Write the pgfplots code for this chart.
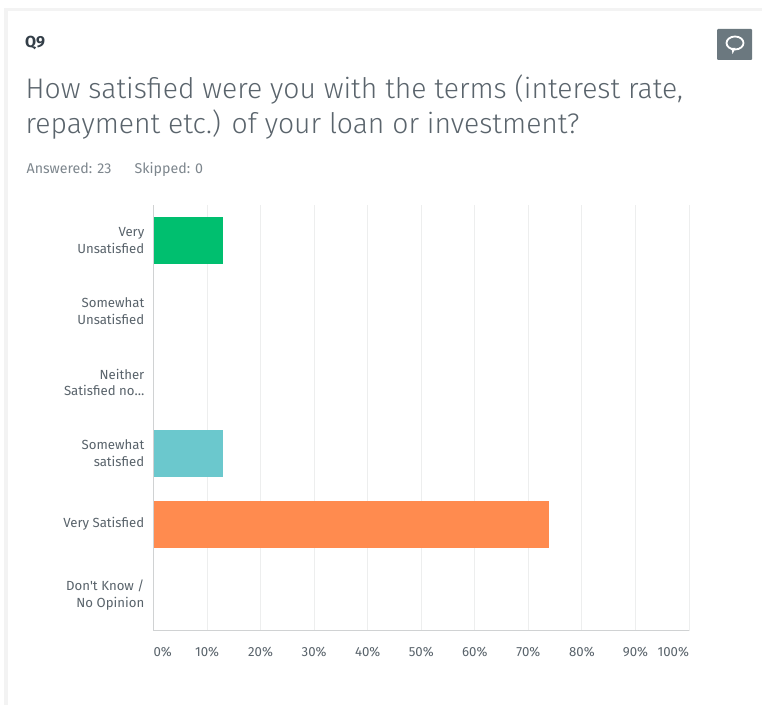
\documentclass[border=0pt]{standalone}
\usepackage{pgfplots}
\pgfplotsset{compat=1.18}
\usepackage{fontspec}
\setmainfont{Fira Sans}
\newfontfamily\titlefont{Fira Sans Light}
\definecolor{ink}{HTML}{333E48}
\definecolor{titleink}{HTML}{5A646C}
\definecolor{mutedink}{HTML}{7D868D}
\definecolor{labelink}{HTML}{59636B}
\definecolor{pagegray}{HTML}{F3F3F3}
\definecolor{gridgray}{HTML}{EDEEEE}
\definecolor{axisgray}{HTML}{D0D2D3}
\definecolor{badge}{HTML}{6B787F}
\definecolor{greenbar}{HTML}{00BF6F}
\definecolor{tealbar}{HTML}{6BC8CD}
\definecolor{orangebar}{HTML}{FF8B4F}
\begin{document}
\begin{tikzpicture}[x=1pt,y=1pt]
% card and surrounding page
\fill[pagegray] (0,0) rectangle (762,705);
\fill[white] (0,697) rectangle (762,705);
\fill[white] (0,0) rectangle (4,705);
\fill[white] (8,0) rectangle (762,694);
% header text
\node[anchor=base west,inner sep=0pt,text=ink,font=\fontsize{16}{18}\selectfont\bfseries] at (25,705-48) {Q9};
\node[anchor=base west,inner sep=0pt,text=titleink,font=\fontsize{28.3}{34}\titlefont] at (25.5,705-98.5) {How satisfied were you with the terms (interest rate,};
\node[anchor=base west,inner sep=0pt,text=titleink,font=\fontsize{28.3}{34}\titlefont] at (25.5,705-134) {repayment etc.) of your loan or investment?};
\node[anchor=base west,inner sep=0pt,text=mutedink,font=\fontsize{14.2}{16}\selectfont] at (26.5,705-173.5) {Answered: 23};
\node[anchor=base west,inner sep=0pt,text=mutedink,font=\fontsize{14.2}{16}\selectfont] at (134.5,705-173.5) {Skipped: 0};
% comment badge
\fill[badge,rounded corners=1pt] (717,705-60) rectangle (752,705-29);
\draw[white,line width=1.8pt] (735,705-43) ellipse (8.5 and 6.5);
\fill[white] (731.5,705-48) -- (735.5,705-48) -- (732.5,705-54) -- cycle;
\begin{axis}[
  at={(153.5pt,74.5pt)},anchor=south west,
  scale only axis,width=535.5pt,height=425.5pt,
  xbar,bar width=47pt,bar shift=0pt,
  xmin=0,xmax=100,ymin=-0.5,ymax=5.5,y dir=reverse,
  xtick={0,10,...,100},
  xticklabels={\makebox[0pt][l]{0\%},10\%,20\%,30\%,40\%,50\%,60\%,70\%,80\%,90\%,\makebox[0pt][r]{100\%}},
  ytick={0,...,5},
  yticklabels={Very\\Unsatisfied,Somewhat\\Unsatisfied,Neither\\Satisfied no\ldots,Somewhat\\satisfied,Very Satisfied,Don\textquotesingle t Know /\\No Opinion},
  yticklabel style={align=right,text=labelink,font=\fontsize{13.2}{16.5}\selectfont,inner sep=0pt,xshift=-9pt},
  xticklabel style={text=labelink,font=\fontsize{13.2}{15}\selectfont,inner sep=0pt,yshift=-16pt},
  major tick length=0pt,
  xmajorgrids,
  major grid style={gridgray,line width=1pt},
  axis line style={axisgray,line width=1pt,-},
  axis x line*=bottom,axis y line*=left,
]
\addplot[fill=greenbar,draw=none] coordinates {(13.04,0)};
\addplot[fill=tealbar,draw=none] coordinates {(13.04,3)};
\addplot[fill=orangebar,draw=none] coordinates {(73.91,4)};
\end{axis}
\end{tikzpicture}
\end{document}
